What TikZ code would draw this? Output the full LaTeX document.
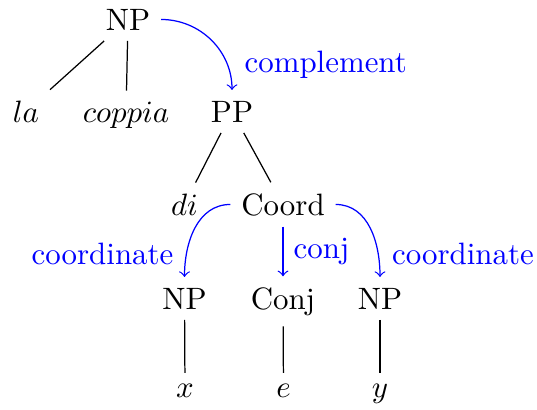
\documentclass[tikz,border=0pt]{standalone}
\begin{document}
\begin{tikzpicture}[x=0.3236pt,y=-0.3236pt,
  word/.style={anchor=base},
  dep/.style={blue,->},
  deplabel/.style={blue,inner sep=0pt}]
\useasboundingbox (0,0) rectangle (537,409);
% phrase-structure tree
\node[word] (np)    at (128,30)  {NP};
\node[word] (la)    at (26,122)  {$la$};
\node[word] (cop)   at (126,122) {$coppia$};
\node[word] (pp)    at (232,122) {PP};
\node[word] (di)    at (184.5,215) {$di$};
\node[word] (coord) at (283,215) {Coord};
\node[word] (npl)   at (184.5,309) {NP};
\node[word] (conj)  at (283,309) {Conj};
\node[word] (npr)   at (380,309) {NP};
\node[word] (wx)    at (185,397) {$x$};
\node[word] (we)    at (283.5,397) {$e$};
\node[word] (wy)    at (380,397) {$y$};
\draw (np) -- (la);
\draw (np) -- (cop);
\draw (pp) -- (di);
\draw (pp) -- (coord);
\draw (npl) -- (wx);
\draw (conj) -- (we);
\draw (npr) -- (wy);
% dependency arcs
\draw[dep] (np.east) to[out=0,in=90] (pp.north);
\draw[dep] (coord.west) to[out=180,in=90] (npl.north);
\draw[dep] (coord) -- (conj);
\draw[dep] (coord.east) to[out=0,in=90] (npr.north);
\node[deplabel,anchor=base west] (lcomp)  at (244,72)    {complement};
\node[deplabel,anchor=base east] (lcoorl) at (174,264)   {coordinate};
\node[deplabel,anchor=base west] (lconj)  at (293,258)   {conj};
\node[deplabel,anchor=base west] (lcoorr) at (391.5,264) {coordinate};
\end{tikzpicture}
\end{document}
